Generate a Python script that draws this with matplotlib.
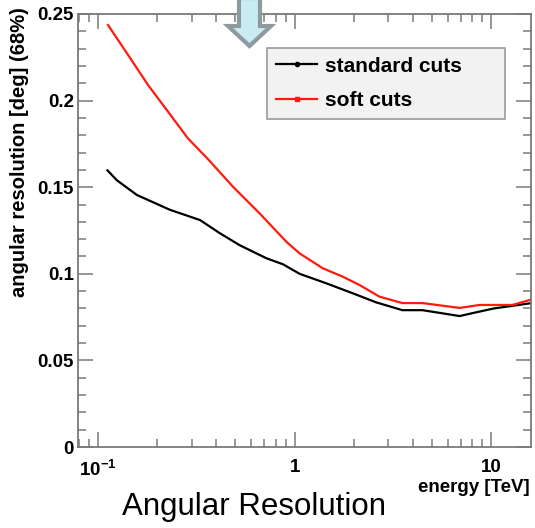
import matplotlib
matplotlib.use('Agg')
import matplotlib.pyplot as plt
from matplotlib.patches import Polygon
from matplotlib.ticker import FixedLocator, LogLocator, MultipleLocator, FuncFormatter

plt.rcParams['font.family'] = ['Liberation Sans', 'DejaVu Sans']
plt.rcParams['mathtext.fontset'] = 'custom'
plt.rcParams['mathtext.rm'] = 'Liberation Sans:bold'
plt.rcParams['mathtext.bf'] = 'Liberation Sans:bold'

# energy [TeV] and angular resolution [deg]
std_energy = [0.112, 0.125, 0.158, 0.232, 0.331, 0.416, 0.526, 0.718, 0.873, 1.06,
              1.45, 1.98, 2.60, 3.53, 4.47, 6.9, 8.1, 10.3, 15.8]
std_res = [0.1597, 0.154, 0.1455, 0.137, 0.131, 0.1235, 0.1165, 0.109, 0.1055, 0.100,
           0.0945, 0.0887, 0.0835, 0.079, 0.079, 0.0756, 0.0774, 0.080, 0.083]

soft_energy = [0.1127, 0.1426, 0.180, 0.2274, 0.287, 0.363, 0.486, 0.664, 0.908, 1.06,
               1.39, 1.76, 2.14, 2.70, 3.53, 4.47, 6.9, 8.7, 12.8, 15.8]
soft_res = [0.2436, 0.2263, 0.209, 0.1936, 0.1782, 0.1662, 0.1503, 0.1349, 0.1185, 0.1118,
            0.1032, 0.0983, 0.0935, 0.0868, 0.0831, 0.0831, 0.0803, 0.082, 0.082, 0.085]

x_ticks = [0.1, 1, 10]
x_labels = ['$\\mathbf{10^{-1}}$', '1', '10']
y_ticks = [0, 0.05, 0.1, 0.15, 0.2, 0.25]
y_labels = ['0', '0.05', '0.1', '0.15', '0.2', '0.25']

W, H = 535, 528
fig = plt.figure(figsize=(W / 100, H / 100), dpi=100)
ax = fig.add_axes([78 / W, 1 - 447 / H, (531 - 78) / W, (447 - 14) / H])

ax.plot(std_energy, std_res, color='black', lw=1.6, label='standard cuts')
ax.plot(soft_energy, soft_res, color='#ff1a0d', lw=1.6, label='soft cuts')

ax.set_xscale('log')
ax.set_xlim(0.0793, 15.9)
ax.set_ylim(0, 0.25)

ax.xaxis.set_major_locator(FixedLocator(x_ticks))
ax.xaxis.set_major_formatter(FuncFormatter(lambda v, p: x_labels[x_ticks.index(v)] if v in x_ticks else ''))
ax.xaxis.set_minor_locator(LogLocator(base=10, subs=range(2, 10)))
ax.xaxis.set_minor_formatter(FuncFormatter(lambda v, p: ''))
ax.yaxis.set_major_locator(FixedLocator(y_ticks))
ax.set_yticklabels(y_labels)
ax.yaxis.set_minor_locator(MultipleLocator(0.01))

for s in ax.spines.values():
    s.set_color('#7a7a7a')
    s.set_linewidth(1.3)
ax.tick_params(which='both', direction='in', top=True, right=True, color='#7a7a7a', width=1.1)
ax.tick_params(which='major', length=11)
ax.tick_params(which='minor', length=5.5)
ax.tick_params(axis='y', which='major', labelsize=13.5, pad=3)
ax.tick_params(axis='x', which='major', labelsize=13.5, pad=9)
for t in ax.get_xticklabels() + ax.get_yticklabels():
    t.set_fontweight('bold')

ax.set_ylabel('angular resolution [deg] (68%)', fontsize=14.5, fontweight='bold', loc='top')
ax.yaxis.set_label_coords(-0.108, 1.015)
fig.text(530 / W, 1 - 488 / H, 'energy [TeV]', ha='right', va='center', fontsize=13.5, fontweight='bold')

# legend with small markers as in the ROOT style
h1, = ax.plot([], [], color='black', lw=1.6, marker='o', ms=3)
h2, = ax.plot([], [], color='#ff1a0d', lw=1.6, marker='s', ms=3.5)
leg = ax.legend([h1, h2], ['standard cuts', 'soft cuts'], loc='upper left', mode='expand',
                bbox_to_anchor=((267 - 78) / 453, (447 - 120) / 433, (505 - 267) / 453, 72 / 433),
                prop={'weight': 'bold', 'size': 15},
                frameon=True, fancybox=False, handlelength=2.0, borderpad=0.42, labelspacing=0.75,
                handletextpad=0.35, borderaxespad=0)
leg.get_frame().set_facecolor('#f2f2f2')
leg.get_frame().set_edgecolor('#9a9a9a')
leg.get_frame().set_linewidth(1.2)
leg.get_frame().set_alpha(1)

# arrow pointing down at the top of the panel
arrow_px = [(239, -2), (260, -2), (260, 26), (271, 26), (249.5, 46), (228, 26), (239, 26)]
arrow = Polygon([(x / W, 1 - y / H) for x, y in arrow_px], closed=True, transform=fig.transFigure,
                facecolor='#c9ecf3', edgecolor='#8e9a9e', linewidth=3, joinstyle='miter', zorder=10)
fig.patches.append(arrow)

fig.text(254 / W, 1 - 507 / H, 'Angular Resolution', ha='center', va='center', fontsize=22.5)

fig.savefig('out.png', dpi=100)
